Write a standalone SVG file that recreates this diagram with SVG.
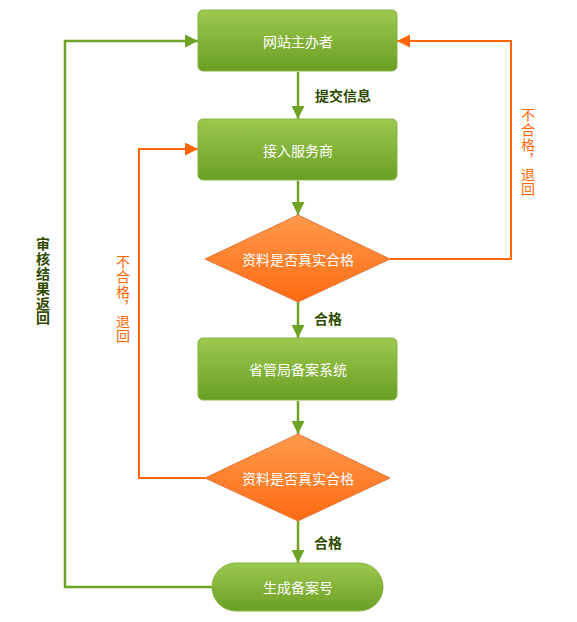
<svg xmlns="http://www.w3.org/2000/svg" width="577" height="622" viewBox="0 0 577 622">
<defs>
<linearGradient id="gG" x1="0" y1="0" x2="0" y2="1"><stop offset="0" stop-color="#9cc84e"/><stop offset="1" stop-color="#6a9f24"/></linearGradient>
<linearGradient id="gO" x1="0" y1="0" x2="0" y2="1"><stop offset="0" stop-color="#ff9a4c"/><stop offset="1" stop-color="#ff6a12"/></linearGradient>
<marker id="aG" viewBox="0 0 10 10" refX="10" refY="5" markerWidth="13" markerHeight="13" markerUnits="userSpaceOnUse" orient="auto"><path d="M0,0 L10,5 L0,10 Z" fill="#6fa325"/></marker>
<marker id="aO" viewBox="0 0 10 10" refX="10" refY="5" markerWidth="13" markerHeight="13" markerUnits="userSpaceOnUse" orient="auto"><path d="M0,0 L10,5 L0,10 Z" fill="#ff6600"/></marker>
</defs>
<style>
.box{fill:url(#gG);stroke:#86b342;stroke-width:1}
.dia{fill:url(#gO);stroke:#e0773a;stroke-width:1}
.t{font-family:"Noto Sans CJK SC","Liberation Sans",sans-serif;font-size:14px;fill:#ffffff;text-anchor:middle;dominant-baseline:central}
.lg{font-family:"Noto Sans CJK SC","Liberation Sans",sans-serif;font-size:14px;font-weight:bold;fill:#2f4b00;text-anchor:middle;dominant-baseline:central}
.v{font-family:"Noto Sans CJK SC","Liberation Sans",sans-serif;font-size:14px;writing-mode:vertical-rl;text-anchor:start}
.vg{fill:#2f4b00;font-weight:bold}
.vo{fill:#ff6600}
.cg{fill:none;stroke:#6fa325;stroke-width:2.5}
.co{fill:none;stroke:#ff6600;stroke-width:2}
</style>
<g id="connectors">
<path class="cg" d="M298,72 V119" marker-end="url(#aG)"/>
<path class="cg" d="M298,181 V215" marker-end="url(#aG)"/>
<path class="cg" d="M298,302 V338" marker-end="url(#aG)"/>
<path class="cg" d="M298,401 V434" marker-end="url(#aG)"/>
<path class="cg" d="M298,521 V563" marker-end="url(#aG)"/>
<path class="cg" d="M212,587 H65 V41 H198" marker-end="url(#aG)"/>
<path class="co" d="M390,259 H511 V41 H397" marker-end="url(#aO)"/>
<path class="co" d="M205,478 H139 V149 H198" marker-end="url(#aO)"/>
<text class="lg" x="343" y="95">提交信息</text>
<text class="lg" x="328" y="318">合格</text>
<text class="lg" x="328" y="542">合格</text>
<g class="v vg"><text x="43" y="237">审</text><text x="43" y="251.8">核</text><text x="43" y="266.6">结</text><text x="43" y="281.4">果</text><text x="43" y="296.2">返</text><text x="43" y="311">回</text></g>
<g class="v vo"><text x="123" y="255">不</text><text x="123" y="269.8">合</text><text x="123" y="284.6">格</text><text x="123" y="299.4">，</text><text x="123" y="314.2">退</text><text x="123" y="329">回</text></g>
<g class="v vo"><text x="528" y="108">不</text><text x="528" y="122.8">合</text><text x="528" y="137.6">格</text><text x="528" y="152.4">，</text><text x="528" y="167.2">退</text><text x="528" y="182">回</text></g>
</g>
<g id="n1"><rect class="box" x="198" y="10" width="199" height="61" rx="5"/><text class="t" x="298" y="41">网站主办者</text></g>
<g id="n2"><rect class="box" x="198" y="119" width="199" height="61" rx="5"/><text class="t" x="298" y="150">接入服务商</text></g>
<g id="d1"><path class="dia" d="M298,215 L390,259 L298,302 L205,259 Z"/><text class="t" x="298" y="259">资料是否真实合格</text></g>
<g id="n3"><rect class="box" x="198" y="338" width="199" height="62" rx="5"/><text class="t" x="298" y="369">省管局备案系统</text></g>
<g id="d2"><path class="dia" d="M298,434 L390,478 L298,521 L205,478 Z"/><text class="t" x="298" y="478">资料是否真实合格</text></g>
<g id="n4"><rect class="box" x="212" y="563" width="171" height="48" rx="24"/><text class="t" x="298" y="587">生成备案号</text></g>
</svg>
